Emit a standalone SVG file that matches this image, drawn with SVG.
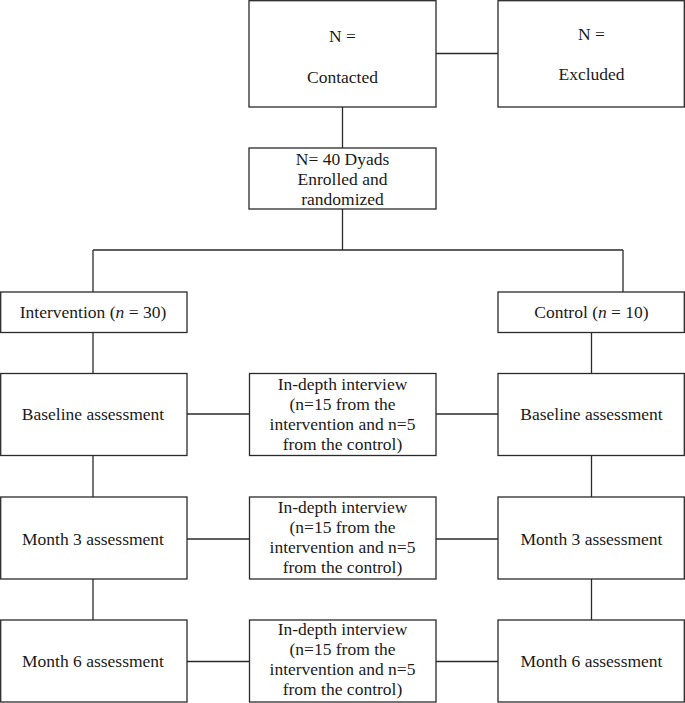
<svg xmlns="http://www.w3.org/2000/svg" width="685" height="703" viewBox="0 0 685 703">
<style>
rect{fill:#fff;stroke:#2a2a2a;stroke-width:1.3}
line{stroke:#2a2a2a;stroke-width:1.3}
text{font-size:17.5px;fill:#1a1a1a;text-anchor:middle}
</style>
<rect x="0" y="0" width="685" height="703" style="fill:#fff;stroke:none"/>
<g id="connectors">
<line x1="436" y1="53.5" x2="498" y2="53.5"/>
<line x1="342.5" y1="107" x2="342.5" y2="148"/>
<line x1="342.5" y1="209" x2="342.5" y2="250"/>
<line x1="93" y1="250" x2="623" y2="250"/>
<line x1="93" y1="250" x2="93" y2="292"/>
<line x1="623" y1="250" x2="623" y2="292"/>
<line x1="93" y1="332" x2="93" y2="373"/>
<line x1="591.5" y1="332" x2="591.5" y2="373"/>
<line x1="93" y1="455" x2="93" y2="497"/>
<line x1="591.5" y1="455" x2="591.5" y2="497"/>
<line x1="93" y1="579" x2="93" y2="620"/>
<line x1="591.5" y1="579" x2="591.5" y2="620"/>
<line x1="187" y1="414" x2="249" y2="414"/>
<line x1="436" y1="414" x2="498" y2="414"/>
<line x1="187" y1="539" x2="249" y2="539"/>
<line x1="436" y1="539" x2="498" y2="539"/>
<line x1="187" y1="661.5" x2="249" y2="661.5"/>
<line x1="436" y1="661.5" x2="498" y2="661.5"/>
</g>
<g font-family="'Liberation Serif', 'Times New Roman', serif">
<g id="contacted">
<rect x="249" y="0.7" width="187" height="106.3"/>
<text x="342.5" y="42">N =</text>
<text x="342.5" y="83">Contacted</text>
</g>
<g id="excluded">
<rect x="498" y="0.7" width="186.3" height="106.3"/>
<text x="591.5" y="40">N =</text>
<text x="591.5" y="80">Excluded</text>
</g>
<g id="enrolled">
<rect x="249" y="148" width="187" height="61"/>
<text x="342.5" y="165">N= 40 Dyads</text>
<text x="342.5" y="185">Enrolled and</text>
<text x="342.5" y="205">randomized</text>
</g>
<g id="intervention">
<rect x="0.7" y="292" width="186.3" height="40.5"/>
<text x="93" y="318">Intervention (<tspan font-style="italic">n</tspan> = 30)</text>
</g>
<g id="control">
<rect x="498" y="292" width="186.3" height="40.5"/>
<text x="591.5" y="318">Control (<tspan font-style="italic">n</tspan> = 10)</text>
</g>
<g id="baseline-int">
<rect x="0.7" y="373.5" width="186.3" height="82"/>
<text x="93" y="420">Baseline assessment</text>
</g>
<g id="interview-1">
<rect x="249.5" y="373.5" width="186.5" height="82"/>
<text x="342.5" y="390">In-depth interview</text>
<text x="342.5" y="410">(n=15 from the</text>
<text x="342.5" y="430">intervention and n=5</text>
<text x="342.5" y="450">from the control)</text>
</g>
<g id="baseline-ctl">
<rect x="498" y="373.5" width="186.3" height="82"/>
<text x="591.5" y="420">Baseline assessment</text>
</g>
<g id="month3-int">
<rect x="0.7" y="497" width="186.3" height="82"/>
<text x="93" y="545">Month 3 assessment</text>
</g>
<g id="interview-2">
<rect x="249.5" y="497" width="186.5" height="82"/>
<text x="342.5" y="513">In-depth interview</text>
<text x="342.5" y="533">(n=15 from the</text>
<text x="342.5" y="553">intervention and n=5</text>
<text x="342.5" y="573">from the control)</text>
</g>
<g id="month3-ctl">
<rect x="498" y="497" width="186.3" height="82"/>
<text x="591.5" y="545">Month 3 assessment</text>
</g>
<g id="month6-int">
<rect x="0.7" y="620" width="186.3" height="82"/>
<text x="93" y="667">Month 6 assessment</text>
</g>
<g id="interview-3">
<rect x="249.5" y="620" width="186.5" height="82"/>
<text x="342.5" y="635">In-depth interview</text>
<text x="342.5" y="655">(n=15 from the</text>
<text x="342.5" y="675">intervention and n=5</text>
<text x="342.5" y="695">from the control)</text>
</g>
<g id="month6-ctl">
<rect x="498" y="620" width="186.3" height="82"/>
<text x="591.5" y="667">Month 6 assessment</text>
</g>
</g>
</svg>
